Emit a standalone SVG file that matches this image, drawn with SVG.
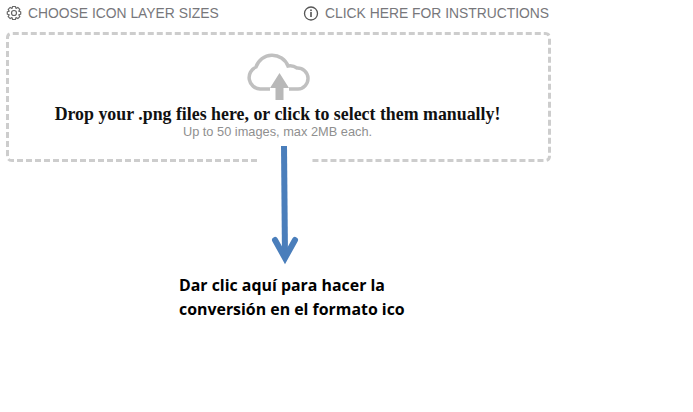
<svg xmlns="http://www.w3.org/2000/svg" width="693" height="412" viewBox="0 0 693 412">
<defs><style>
.top{font:13.87px "Liberation Sans",Arial,sans-serif;fill:#77777b}
.dash{fill:none;stroke:#cdcdcd;stroke-width:3;stroke-dasharray:6 3}
.ic{fill:none;stroke:#666;stroke-width:1.2}
.note{font:bold 15.9px "Open Sans","Noto Sans",sans-serif;fill:#000}
</style></defs>
<rect width="693" height="412" fill="#fff"/>
<g id="sizes">
<circle class="ic" cx="14" cy="13" r="2.500"/>
<path class="ic" d="M12.600 6.500H15.400L16 8.400L17.800 7.400L19.800 9.400L18.800 11.200L20.700 11.800V14.200L18.800 14.800L19.800 16.600L17.800 18.600L16 17.600L15.400 19.500H12.600L12 17.600L10.200 18.600L8.200 16.600L9.200 14.800L7.300 14.200V11.800L9.200 11.200L8.200 9.400L10.200 7.400L12 8.400Z" stroke-linejoin="round"/>
<text class="top" x="28" y="18">CHOOSE ICON LAYER SIZES</text>
</g>
<g id="instructions">
<circle cx="311" cy="13.500" r="6.500" fill="none" stroke="#555" stroke-width="1.300"/>
<rect x="310.200" y="12" width="1.600" height="5" fill="#555"/>
<rect x="310.200" y="9.500" width="1.600" height="1.600" fill="#555"/>
<text class="top" x="325" y="18">CLICK HERE FOR INSTRUCTIONS</text>
</g>
<g id="dropzone">
<path class="dash" d="M257 160.500H12Q7.500 160.500 7.500 156V38Q7.500 33.500 12 33.500H545Q549.500 33.500 549.500 38V156Q549.500 160.500 545 160.500H312"/>
<path d="M270 89H260A11.500 11.500 0 0 1 256 67A17 17 0 0 1 288 66A12 12 0 0 1 297 68A10.500 10.500 0 0 1 298 89H289" fill="none" stroke="#c0c0c0" stroke-width="3.500"/>
<path d="M279.500 73L289 88H283.500V100H275.500V88H270Z" fill="#b8b8b8"/>
<text x="277.500" y="120" text-anchor="middle" font-family="Liberation Serif,Times New Roman,serif" font-weight="bold" font-size="17.850" fill="#111">Drop your .png files here, or click to select them manually!</text>
<text x="277.500" y="136" text-anchor="middle" font-family="Liberation Sans,Arial,sans-serif" font-size="12.800" fill="#8f8f8f">Up to 50 images, max 2MB each.</text>
</g>
<g id="connectors">
<path d="M284 146L285 258" fill="none" stroke="#4a7ebb" stroke-width="6"/>
<path d="M275 240L285 258L295 240" fill="none" stroke="#4a7ebb" stroke-width="6" stroke-linecap="round"/>
</g>
<g id="note">
<text class="note" x="179" y="291">Dar clic aquí para hacer la</text>
<text class="note" x="179" y="315">conversión en el formato ico</text>
</g>
</svg>
